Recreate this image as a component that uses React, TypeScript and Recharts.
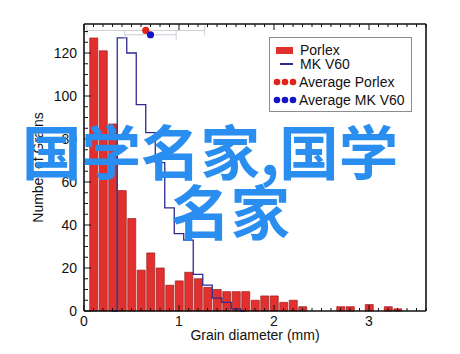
import React from 'react';
import {
  ComposedChart,
  Bar,
  Line,
  Scatter,
  ErrorBar,
  XAxis,
  YAxis,
} from 'recharts';

// bin centres (mm), 0.1 mm wide bins
const binCenters = [
  0.1, 0.2, 0.3, 0.4, 0.5, 0.6, 0.7, 0.8, 0.9, 1.0,
  1.1, 1.2, 1.3, 1.4, 1.5, 1.6, 1.7, 1.8, 1.9, 2.0,
  2.1, 2.2, 2.3, 2.4, 2.5, 2.6, 2.7, 2.8, 2.9, 3.0,
  3.1, 3.2, 3.3, 3.4, 3.5,
];

const porlexCounts = [
  127, 121, 87, 56, 43, 19, 27, 20, 12, 14,
  18, 15, 11, 10, 9, 9, 9, 5, 7, 7,
  4, 5, 2, 0, 0, 0, 2, 2, 0, 3,
  0, 2, 1, 0, 0,
];

const mkCounts = [
  null, null, 0, 127, 120, 96, 83, 69, 48, 36,
  33, 17, 12, 6, 4, 1, 0, null, null, null,
  null, null, null, null, null, null, null, null, null, null,
  null, null, null, null, null,
];

// averages with +/- spread (mm)
const avgNames = ['Average Porlex', 'Average MK V60'];
const avgX = [0.65, 0.7];
const avgY = [130.5, 128.5];
const avgErr = [0.62, 0.27];

const xMajorLabels = [0, 1, 2, 3];
const yMajorLabels = [0, 20, 40, 60, 80, 100, 120];

const X_MAX = 3.6;
const Y_MAX = 133.5;

const FONT = '"Liberation Sans", Arial, Helvetica, sans-serif';
const INK = '#111';
const RED = '#e2302f';
const NAVY = '#2e2a8e';

const xTicks = Array.from({ length: 37 }, (_, i) => i / 10);
const yTicksLeft = Array.from({ length: 27 }, (_, i) => i * 5);
const yTicksRight = Array.from({ length: 21 }, (_, i) => (i * 20) / 3);

const isLabel = (list: number[], v: number) => list.some((m) => Math.abs(m - v) < 1e-6);

const data = binCenters.map((x, i) => ({
  x,
  porlex: porlexCounts[i],
  mk: mkCounts[i],
}));

const avgPorlex = [{ x: avgX[0], y: avgY[0], err: avgErr[0] }];
const avgMk = [{ x: avgX[1], y: avgY[1], err: avgErr[1] }];

const BottomTick = ({ x, y, payload }: any) => {
  const major = isLabel(xMajorLabels, payload.value);
  return (
    <g>
      <line x1={x} x2={x} y1={y} y2={y - (major ? 6 : 3)} stroke={INK} strokeWidth={1} />
      {major && (
        <text x={x} y={y + 15} textAnchor="middle" fontSize={14} fill={INK} fontFamily={FONT}>
          {Math.round(payload.value)}
        </text>
      )}
    </g>
  );
};

const TopTick = ({ x, y, payload }: any) => {
  const major = isLabel(xMajorLabels, payload.value);
  return <line x1={x} x2={x} y1={y} y2={y + (major ? 6 : 3)} stroke={INK} strokeWidth={1} />;
};

const LeftTick = ({ x, y, payload }: any) => {
  const major = isLabel(yMajorLabels, payload.value);
  return (
    <g>
      <line x1={x} x2={x + (major ? 7 : 4)} y1={y} y2={y} stroke={INK} strokeWidth={1} />
      {major && (
        <text x={x - 7} y={y + 5} textAnchor="end" fontSize={14} fill={INK} fontFamily={FONT}>
          {payload.value}
        </text>
      )}
    </g>
  );
};

const RightTick = ({ x, y, payload }: any) => {
  const major = isLabel(yMajorLabels, payload.value);
  return <line x1={x} x2={x - (major ? 7 : 4)} y1={y} y2={y} stroke={INK} strokeWidth={1} />;
};

const dotShape = (fill: string) => (props: any) =>
  <circle cx={props.cx} cy={props.cy} r={3.6} fill={fill} />;

const legendRow: React.CSSProperties = {
  position: 'absolute',
  left: 0,
  height: 16,
  display: 'flex',
  alignItems: 'center',
};

const Dots = ({ color }: { color: string }) => (
  <svg width={26} height={8} style={{ marginLeft: 3 }}>
    {[4, 12, 20].map((cx) => (
      <circle key={cx} cx={cx} cy={4} r={3.3} fill={color} />
    ))}
  </svg>
);

function ChartLegend() {
  return (
    <div
      style={{
        position: 'absolute',
        left: 269,
        top: 37,
        width: 141,
        height: 73,
        border: '1px solid #8c8c8c',
        background: '#fff',
        fontFamily: FONT,
        fontSize: 14,
        color: INK,
      }}
    >
      <div style={{ ...legendRow, top: 4 }}>
        <div style={{ width: 17, height: 7, background: RED, marginLeft: 6, marginRight: 7 }} />
        <span>Porlex</span>
      </div>
      <div style={{ ...legendRow, top: 18 }}>
        <div style={{ width: 13, height: 1.2, background: NAVY, marginLeft: 10, marginRight: 7 }} />
        <span>MK V60</span>
      </div>
      <div style={{ ...legendRow, top: 36 }}>
        <Dots color="#e2231a" />
        <span>{avgNames[0]}</span>
      </div>
      <div style={{ ...legendRow, top: 54 }}>
        <Dots color="#1414c4" />
        <span>{avgNames[1]}</span>
      </div>
    </div>
  );
}

export default function App() {
  return (
    <div
      style={{
        position: 'absolute',
        left: 0,
        top: 0,
        width: 460,
        height: 354,
        background: '#fff',
        fontFamily: FONT,
        overflow: 'hidden',
      }}
    >
      <ComposedChart
        width={460}
        height={354}
        data={data}
        margin={{ top: 23, right: 24, bottom: 13, left: 0 }}
      >
        <XAxis
          xAxisId="b"
          dataKey="x"
          type="number"
          domain={[0, X_MAX]}
          ticks={xTicks}
          interval={0}
          height={30}
          tickSize={0}
          tickMargin={0}
          tick={<BottomTick />}
          axisLine={{ stroke: INK, strokeWidth: 1.6 }}
          tickLine={false}
          label={{
            content: ({ viewBox }: any) => (
              <text
                x={viewBox.x + viewBox.width / 2}
                y={viewBox.y + 29}
                textAnchor="middle"
                fontSize={14}
                fill={INK}
                fontFamily={FONT}
              >
                Grain diameter (mm)
              </text>
            ),
          }}
        />
        <XAxis
          xAxisId="t"
          dataKey="x"
          type="number"
          orientation="top"
          domain={[0, X_MAX]}
          ticks={xTicks}
          interval={0}
          height={1}
          tickSize={0}
          tickMargin={0}
          tick={<TopTick />}
          axisLine={{ stroke: INK, strokeWidth: 1.6 }}
          tickLine={false}
        />
        {/* separate hidden axis for the averages so they don't shrink the bar band */}
        <XAxis xAxisId="s" dataKey="x" type="number" domain={[0, X_MAX]} hide />
        <YAxis
          yAxisId="l"
          type="number"
          domain={[0, Y_MAX]}
          ticks={yTicksLeft}
          interval={0}
          width={84}
          tickSize={0}
          tickMargin={0}
          tick={<LeftTick />}
          axisLine={{ stroke: INK, strokeWidth: 1.6 }}
          tickLine={false}
          label={{
            content: ({ viewBox }: any) => {
              const cx = viewBox.x + 38;
              const cy = viewBox.y + viewBox.height / 2;
              return (
                <text
                  x={cx}
                  y={cy}
                  transform={`rotate(-90 ${cx} ${cy})`}
                  textAnchor="middle"
                  dominantBaseline="central"
                  fontSize={14}
                  fill={INK}
                  fontFamily={FONT}
                >
                  Number of Grains
                </text>
              );
            },
          }}
        />
        <YAxis
          yAxisId="r"
          orientation="right"
          type="number"
          domain={[0, Y_MAX]}
          ticks={yTicksRight}
          interval={0}
          width={10}
          tickSize={0}
          tickMargin={0}
          tick={<RightTick />}
          axisLine={{ stroke: INK, strokeWidth: 1.6 }}
          tickLine={false}
        />
        <Bar
          xAxisId="b"
          yAxisId="l"
          dataKey="porlex"
          barSize={8}
          fill={RED}
          stroke="#9a1a1a"
          strokeWidth={0.7}
          isAnimationActive={false}
        />
        <Line
          xAxisId="b"
          yAxisId="l"
          dataKey="mk"
          type="step"
          stroke={NAVY}
          strokeWidth={1.3}
          dot={false}
          activeDot={false}
          isAnimationActive={false}
        />
        <Scatter
          xAxisId="s"
          yAxisId="l"
          data={avgPorlex}
          dataKey="y"
          shape={dotShape('#e2231a')}
          isAnimationActive={false}
        >
          <ErrorBar dataKey="err" direction="x" width={5} stroke="#d4ccd4" strokeWidth={1} />
        </Scatter>
        <Scatter
          xAxisId="s"
          yAxisId="l"
          data={avgMk}
          dataKey="y"
          shape={dotShape('#1414c4')}
          isAnimationActive={false}
        >
          <ErrorBar dataKey="err" direction="x" width={5} stroke="#ccccdc" strokeWidth={1} />
        </Scatter>
      </ComposedChart>
      <ChartLegend />
      <div
        style={{
          position: 'absolute',
          left: 22,
          top: 119,
          fontFamily: '"Noto Sans CJK SC", sans-serif',
          fontWeight: 700,
          fontSize: 59.5,
          lineHeight: '60px',
          color: '#2a8ef0',
          whiteSpace: 'nowrap',
        }}
      >
        <div>国学名家,国学</div>
        <div style={{ marginLeft: 149 }}>名家</div>
      </div>
    </div>
  );
}
